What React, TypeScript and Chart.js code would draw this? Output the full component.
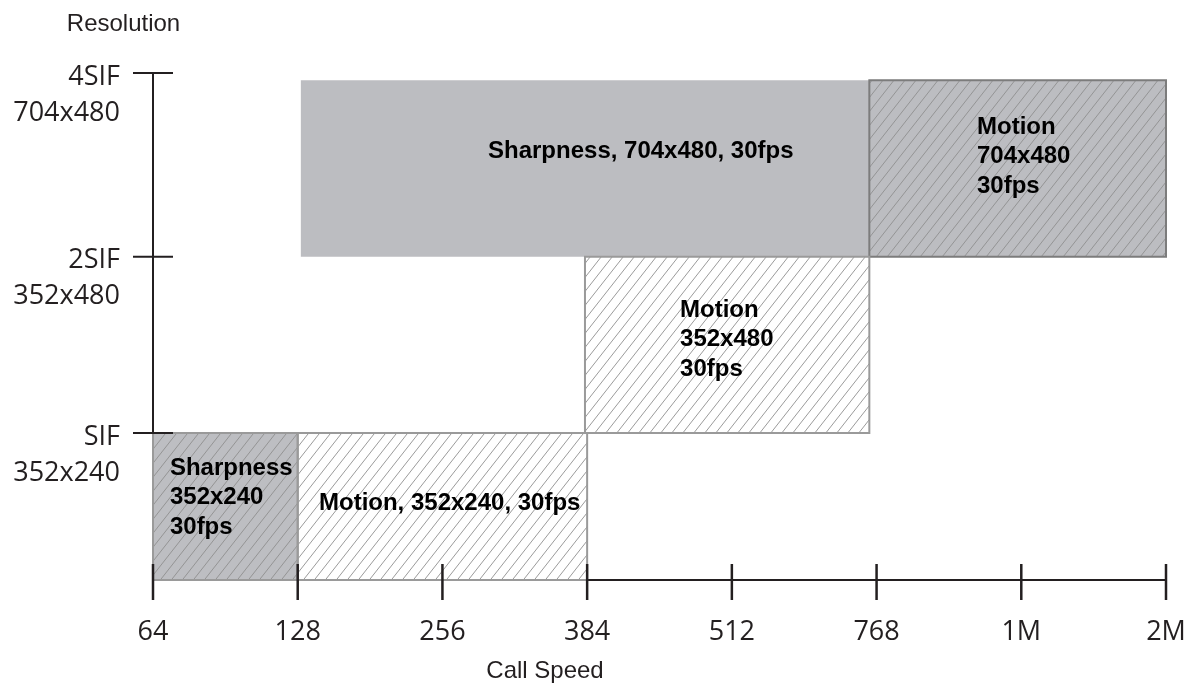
import React, { useEffect, useRef } from "react";
import { Chart, registerables } from "chart.js";

Chart.register(...registerables);

// Axis categories / ticks
const speedLabels = ["64", "128", "256", "384", "512", "768", "1M", "2M"];
const resolutionValues = [1, 2.2, 3.45];
const resolutionNames = ["SIF", "2SIF", "4SIF"];
const resolutionSizes = ["352x240", "352x480", "704x480"];

// Boxes (x in call-speed index units, y in resolution units)
const boxStart = [0, 1, 2.985, 1.02, 4.95];
const boxEnd = [1, 3, 4.95, 4.95, 7];
const boxBottom = [0, 0, 1, 2.2, 2.2];
const boxTop = [1, 1, 2.2, 3.4, 3.4];
const boxLines = [
  ["Sharpness", "352x240", "30fps"],
  ["Motion, 352x240, 30fps"],
  ["Motion", "352x480", "30fps"],
  ["Sharpness, 704x480, 30fps"],
  ["Motion", "704x480", "30fps"],
];
const labelAnchorX = [0.117, 1.147, 3.642, 2.315, 5.694];
const labelAnchorY = [0.762, 0.524, 1.837, 2.919, 3.082];

// Styles
const boxFillColor = ["#bdbec2", "#ffffff", "#ffffff", "#bcbdc1", "#bcbdc1"];
const boxHatched = [true, true, true, false, true];
const boxBorderColor = ["#9a9a9a", "#9a9a9a", "#9a9a9a", "", "#7c7c7c"];

const AXIS = "#231f20";

function makeHatch(bg: string): CanvasPattern | string {
  const w = 11;
  const h = 14;
  const tile = document.createElement("canvas");
  tile.width = w;
  tile.height = h;
  const g = tile.getContext("2d");
  if (!g) return bg;
  g.fillStyle = bg;
  g.fillRect(0, 0, w, h);
  g.strokeStyle = "#8e8e8e";
  g.lineWidth = 0.9;
  for (const dx of [-w, 0, w]) {
    g.beginPath();
    g.moveTo(dx - w * 0.2, h + h * 0.2);
    g.lineTo(dx + w * 1.2, -h * 0.2);
    g.stroke();
  }
  return g.createPattern(tile, "repeat") ?? bg;
}

export default function App() {
  const ref = useRef<HTMLCanvasElement>(null);

  useEffect(() => {
    document.body.style.margin = "0";
    const canvas = ref.current;
    if (!canvas) return;

    const fills = boxStart.map((x0, i) => ({
      type: "line",
      data: [
        { x: x0, y: boxTop[i] },
        { x: boxEnd[i], y: boxTop[i] },
      ],
      fill: { target: { value: boxBottom[i] } },
      backgroundColor: boxHatched[i] ? makeHatch(boxFillColor[i]) : boxFillColor[i],
      borderColor: "rgba(0,0,0,0)",
      borderWidth: 0,
      pointRadius: 0,
      tension: 0,
      order: 2,
      clip: 6,
    }));

    const borders = boxStart
      .map((x0, i) => ({
        type: "line",
        data: [
          { x: x0, y: boxBottom[i] },
          { x: boxEnd[i], y: boxBottom[i] },
          { x: boxEnd[i], y: boxTop[i] },
          { x: x0, y: boxTop[i] },
          { x: x0, y: boxBottom[i] },
        ],
        fill: false,
        borderColor: boxBorderColor[i],
        borderWidth: 2,
        pointRadius: 0,
        tension: 0,
        order: 1,
        clip: 6,
      }))
      .filter((_, i) => boxBorderColor[i] !== "");

    const overlay = {
      id: "overlay",
      afterDraw(chart: any) {
        const { ctx, scales, chartArea } = chart;
        const xs = scales.x;
        const ys = scales.y;
        ctx.save();
        // tick marks crossing the axes
        ctx.strokeStyle = AXIS;
        ctx.lineWidth = 2.5;
        speedLabels.forEach((_, i) => {
          const px = xs.getPixelForValue(i);
          ctx.beginPath();
          ctx.moveTo(px, chartArea.bottom - 16);
          ctx.lineTo(px, chartArea.bottom + 20);
          ctx.stroke();
        });
        ctx.lineWidth = 2;
        resolutionValues.forEach((v) => {
          const py = ys.getPixelForValue(v);
          ctx.beginPath();
          ctx.moveTo(chartArea.left - 20, py);
          ctx.lineTo(chartArea.left + 20, py);
          ctx.stroke();
        });
        // box labels
        ctx.fillStyle = "#000000";
        ctx.font = "bold 24px 'Liberation Sans', Arial, sans-serif";
        ctx.textAlign = "left";
        ctx.textBaseline = "middle";
        boxLines.forEach((lines, i) => {
          const lx = xs.getPixelForValue(labelAnchorX[i]);
          const ly = ys.getPixelForValue(labelAnchorY[i]);
          lines.forEach((t, j) => ctx.fillText(t, lx, ly + j * 29.5));
        });
        // axis titles
        ctx.fillStyle = AXIS;
        ctx.font = "24px 'Liberation Sans', Arial, sans-serif";
        ctx.textAlign = "center";
        ctx.fillText("Resolution", 123.5, 24);
        ctx.fillText("Call Speed", 545, 671);
        ctx.restore();
      },
    };

    const chart = new Chart(canvas, {
      type: "line",
      data: { datasets: [...borders, ...fills] as any },
      options: {
        responsive: false,
        maintainAspectRatio: false,
        animation: false,
        events: [],
        layout: { padding: { top: 73, right: 27, left: 0, bottom: 0 } },
        plugins: { legend: { display: false }, tooltip: { enabled: false } },
        scales: {
          x: {
            type: "linear",
            min: 0,
            max: 7,
            z: 1,
            afterBuildTicks: (s: any) => {
              s.ticks = speedLabels.map((_, i) => ({ value: i }));
            },
            afterFit: (s: any) => {
              s.height = 105;
              s.paddingLeft = 0;
              s.paddingRight = 0;
            },
            ticks: {
              callback: (_v: any, i: number) => speedLabels[i],
              font: { family: "'Open Sans'", size: 27 },
              color: AXIS,
              padding: 36,
              autoSkip: false,
              maxRotation: 0,
            },
            grid: { display: false, drawTicks: false, tickLength: 0 },
            border: { display: true, color: AXIS, width: 2 },
          },
          y: {
            type: "linear",
            min: 0,
            max: 3.45,
            z: 1,
            afterBuildTicks: (s: any) => {
              s.ticks = resolutionValues.map((v) => ({ value: v }));
            },
            afterFit: (s: any) => {
              s.width = 153;
              s.paddingTop = 0;
              s.paddingBottom = 0;
            },
            ticks: {
              callback: (_v: any, i: number) => [resolutionNames[i], resolutionSizes[i]],
              font: { family: "'Open Sans'", size: 27, lineHeight: 1.333 },
              color: AXIS,
              padding: 33,
              labelOffset: 22,
              autoSkip: false,
            },
            grid: { display: false, drawTicks: false, tickLength: 0 },
            border: { display: true, color: AXIS, width: 2 },
          },
        },
      } as any,
      plugins: [overlay],
    });

    return () => chart.destroy();
  }, []);

  return (
    <div style={{ width: 1193, height: 685 }}>
      <canvas ref={ref} width={1193} height={685} style={{ display: "block" }} />
    </div>
  );
}
